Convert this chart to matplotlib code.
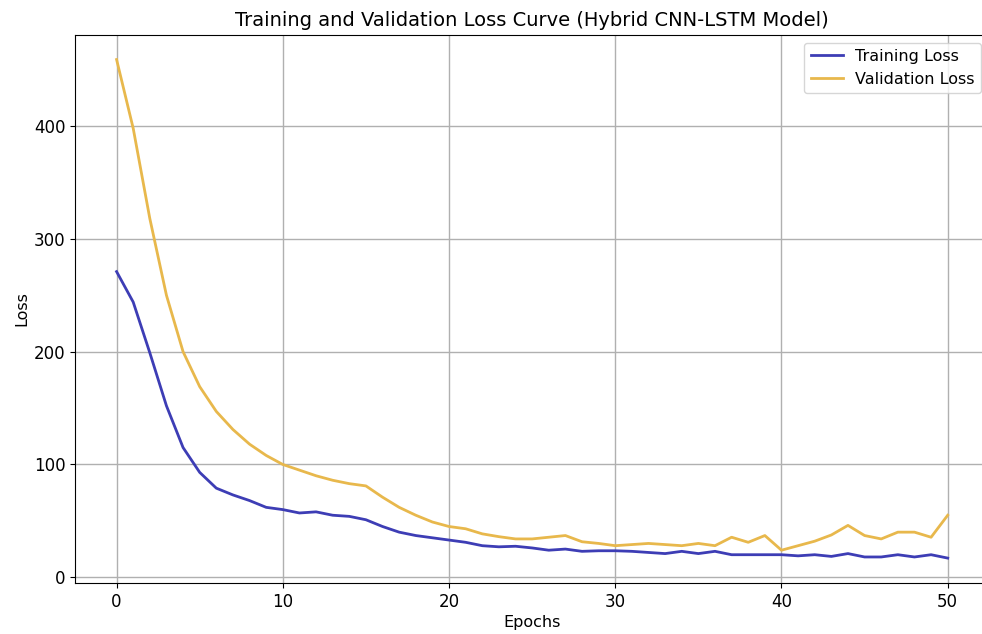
import matplotlib
matplotlib.use("Agg")
import matplotlib.pyplot as plt
import numpy as np

epochs = list(range(51))
train_loss = [271, 244, 199, 152, 115, 93, 79, 73, 68, 62, 60, 57, 58, 55, 54, 51, 45, 40, 37, 35, 33,
              31, 28, 27, 27.5, 26, 24, 25, 23, 23.5, 23.5, 23, 22, 21, 23, 21, 23, 20, 20, 20, 20,
              19, 20, 18.5, 21, 18, 18, 20, 18, 20, 17]
val_loss = [459, 398, 318, 250, 200, 169, 147, 131, 118, 108, 100, 95, 90, 86, 83, 81, 71, 62, 55, 49, 45,
            43, 38.5, 36, 34, 34, 35.5, 37, 31.5, 30, 28, 29, 30, 29, 28, 30, 28, 35.5, 31, 37, 24,
            28, 32, 37.5, 46, 37, 34, 40, 40, 35.5, 55]

fig = plt.figure(figsize=(9.82, 6.34), dpi=100)
ax = fig.add_axes([0.0764, 0.0804, 0.931, 0.865])
ax.plot(epochs, train_loss, color="#3d3db5", lw=2.0, label="Training Loss")
ax.plot(epochs, val_loss, color="#e8b84c", lw=2.0, label="Validation Loss")
ax.set_title("Training and Validation Loss Curve (Hybrid CNN-LSTM Model)", fontsize=14)
ax.set_xlabel("Epochs", fontsize=11.5, labelpad=3)
ax.set_ylabel("Loss", fontsize=11.5, labelpad=3)
ax.set_xticks([0, 10, 20, 30, 40, 50])
ax.set_yticks([0, 100, 200, 300, 400])
ax.tick_params(labelsize=12)
ax.grid(True, color="#b0b0b0", lw=1)
ax.legend(loc="upper right", fontsize=11.5)
fig.savefig("out.png", dpi=100)
